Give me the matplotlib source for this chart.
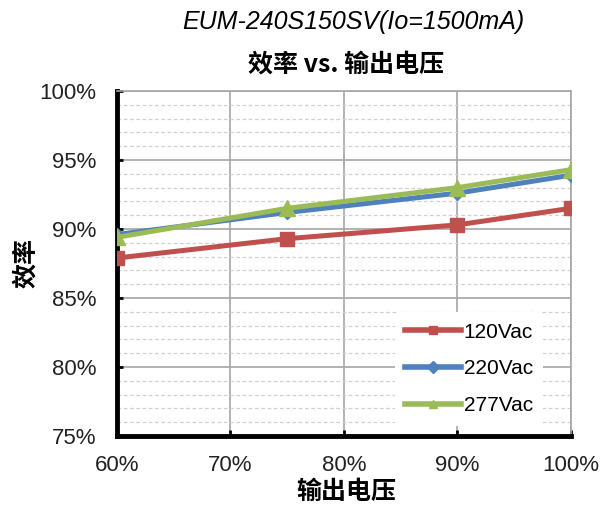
import matplotlib
matplotlib.use("Agg")
import matplotlib.pyplot as plt
from matplotlib.ticker import MultipleLocator, FuncFormatter

plt.rcParams['font.family'] = ['Liberation Sans', 'Noto Sans CJK SC', 'DejaVu Sans']

x_vals = [60, 75, 90, 100]
eff_120 = [87.9, 89.3, 90.3, 91.5]
eff_220 = [89.6, 91.2, 92.6, 93.9]
eff_277 = [89.4, 91.5, 93.0, 94.3]
series_labels = ['120Vac', '220Vac', '277Vac']
x_ticks = [60, 70, 80, 90, 100]
y_ticks = [75, 80, 85, 90, 95, 100]
title1 = 'EUM-240S150SV(Io=1500mA)'
title2 = '效率 vs. 输出电压'
xlabel = '输出电压'
ylabel = '效率'

CJK = ['Noto Sans CJK SC', 'DejaVu Sans']

fig = plt.figure(figsize=(6.11, 5.07), dpi=100)
ax = fig.add_axes([0.1915, 0.14, 0.743, 0.6805])

ax.set_xlim(60, 100)
ax.set_ylim(75, 100)
ax.set_xticks(x_ticks)
ax.set_yticks(y_ticks)
ax.yaxis.set_minor_locator(MultipleLocator(1))
ax.xaxis.set_major_formatter(FuncFormatter(lambda v, p: f'{int(v)}%'))
ax.yaxis.set_major_formatter(FuncFormatter(lambda v, p: f'{int(v)}%'))

ax.grid(which='major', color='#a6a6a6', linewidth=1.2, linestyle='-')
ax.grid(which='minor', axis='y', color='#d0d0d0', linewidth=0.9, linestyle=(0, (3, 2)))
ax.set_axisbelow(True)

ax.plot(x_vals, eff_120, color='#c0504d', linewidth=3.6, marker='s', markersize=10.5, label=series_labels[0], zorder=3)
ax.plot(x_vals, eff_220, color='#4f81bd', linewidth=3.6, marker='D', markersize=7.5, label=series_labels[1], zorder=3)
ax.plot(x_vals, eff_277, color='#9bbb59', linewidth=3.6, marker='^', markersize=12, label=series_labels[2], zorder=4)

for s in ['left', 'bottom']:
    ax.spines[s].set_linewidth(3.5)
    ax.spines[s].set_color('black')
for s in ['right', 'top']:
    ax.spines[s].set_linewidth(1.2)
    ax.spines[s].set_color('#a6a6a6')

ax.tick_params(axis='both', which='major', direction='in', length=4, width=2, colors='black', labelsize=16)
ax.tick_params(axis='y', which='major', pad=15)
ax.tick_params(axis='x', which='major', pad=14)
ax.tick_params(axis='y', which='minor', length=0)
for lbl in ax.get_xticklabels() + ax.get_yticklabels():
    lbl.set_color('#222222')

leg = ax.legend(loc='lower right', bbox_to_anchor=(0.962, 0.0), frameon=True, fontsize=15,
                handlelength=2.65, labelspacing=0.85, borderpad=0.5, handletextpad=0.15)
leg.get_frame().set_edgecolor('none')
leg.get_frame().set_facecolor('white')
leg.get_frame().set_alpha(1)
for h in leg.legend_handles:
    h.set_markersize(6)
    h.set_linewidth(4)

fig.text(0.578, 0.956, title1, ha='center', va='center', fontsize=18, style='italic')
fig.text(0.566, 0.873, title2, ha='center', va='center', fontsize=18, fontweight='bold', family=CJK)
fig.text(0.566, 0.03, xlabel, ha='center', va='center', fontsize=18, fontweight='bold', family=CJK)
fig.text(0.043, 0.482, ylabel, ha='center', va='center', fontsize=18, fontweight='bold', family=CJK,
         rotation=90)

fig.savefig('out.png', dpi=100)
